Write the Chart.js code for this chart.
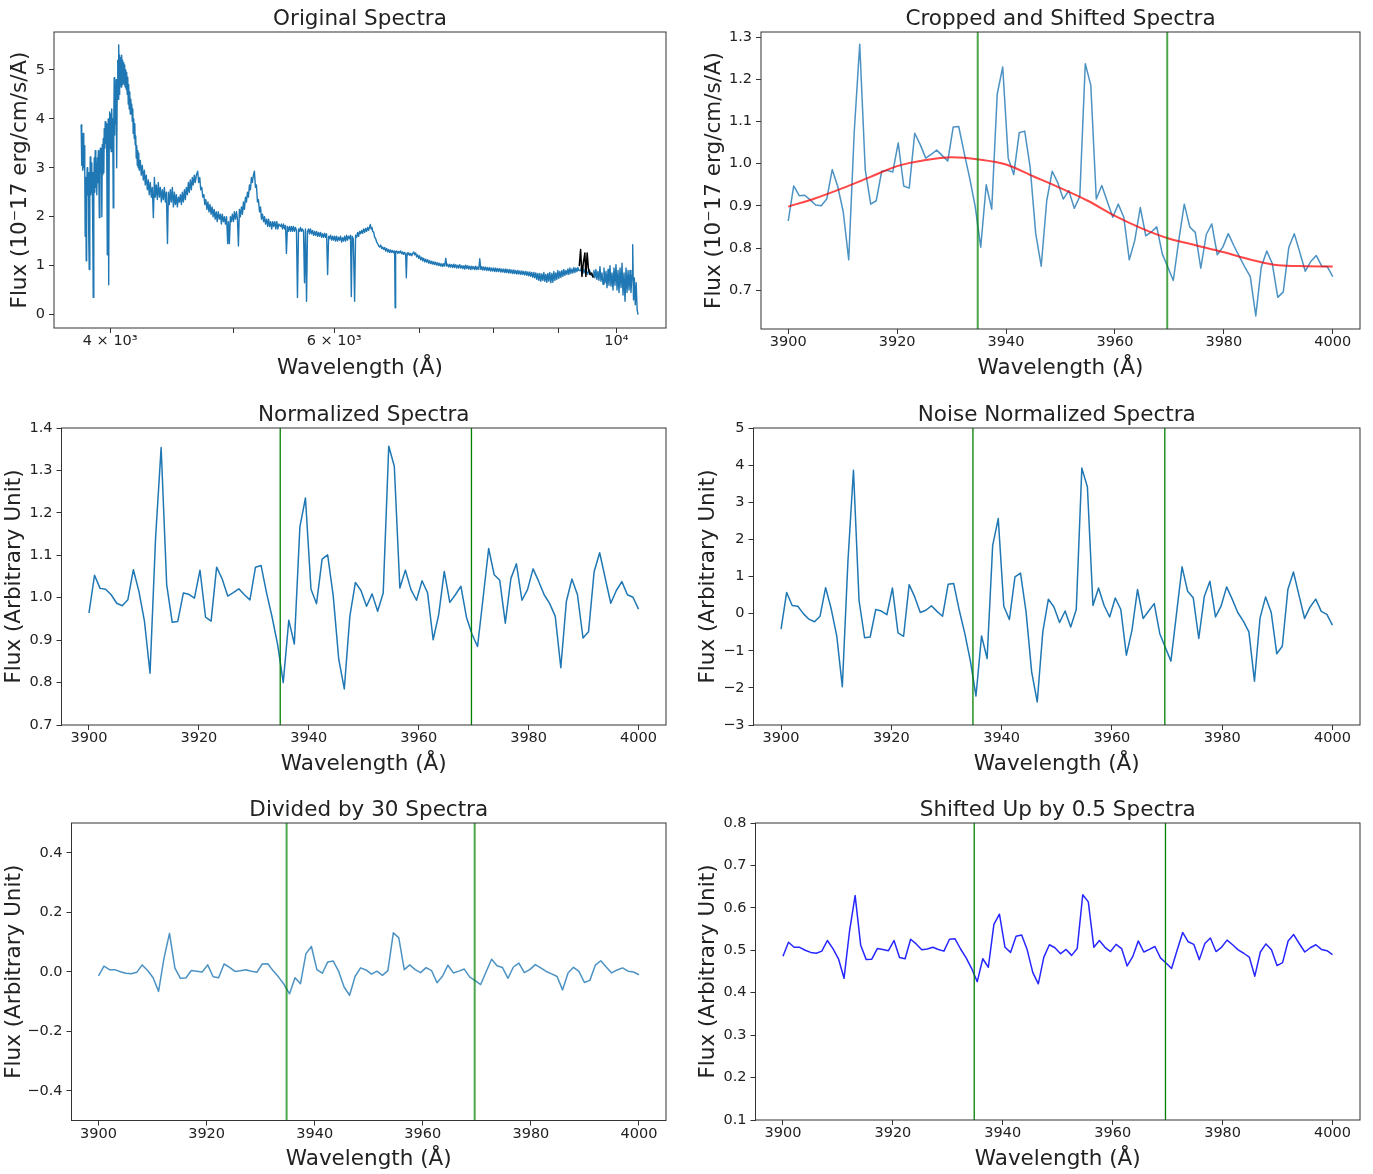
<!DOCTYPE html>
<html><head><meta charset="utf-8">
<script src="https://cdn.jsdelivr.net/npm/chart.js@4.4.0/dist/chart.umd.min.js"></script>
<style>
html,body{margin:0;padding:0;background:#fff;}
body{width:1373px;height:1174px;position:relative;overflow:hidden;}
canvas{position:absolute;}
</style></head>
<body>
<canvas id="p1"></canvas><canvas id="p2"></canvas>
<canvas id="p3"></canvas><canvas id="p4"></canvas>
<canvas id="p5"></canvas><canvas id="p6"></canvas>
<script>
// ---------------- DATA ----------------
// Original (observed-frame) spectrum, wavelength in Å and flux
const origWave = [
3795,3799,3802,3806,3809,3813,3816,3820,3823,3826,
3830,3833,3837,3840,3844,3848,3851,3855,3858,3862,
3865,3869,3872,3876,3879,3883,3886,3890,3893,3897,
3901,3904,3908,3911,3915,3918,3922,3926,3929,3933,
3936,3940,3943,3947,3950,3954,3957,3961,3964,3968,
3971,3975,3979,3982,3986,3989,3993,3996,4000,4004,
4007,4011,4015,4018,4022,4026,4029,4033,4036,4040,
4044,4047,4051,4055,4058,4062,4066,4069,4073,4077,
4080,4084,4088,4091,4095,4099,4103,4106,4110,4114,
4118,4121,4125,4129,4133,4136,4140,4144,4148,4152,
4155,4159,4163,4167,4170,4174,4178,4182,4185,4189,
4193,4197,4201,4205,4208,4212,4216,
4224,4231,4239,4247,4255,4262,4270,4278,4286,4293,
4301,4309,4317,4325,4333,4340,4348,4356,4364,4372,
4380,4388,4396,4404,4412,4420,4428,4437,4444,4452,
4460,4468,4476,4485,4493,4501,4509,4517,4526,4534,
4542,4550,4558,4566,4575,4583,4591,4600,4608,4616,
4624,4633,4641,4649,4658,4666,4675,4686,4695,4704,
4712,4721,4730,4739,4747,4756,4765,4774,4783,4792,
4801,4810,4819,4828,4837,4846,4855,4864,4874,4883,
4892,4900,4910,4919,4928,4938,4948,4955,4963,4972,
4981,4990,5000,5008,5018,5027,5036,5045,5054,5063,
5073,5082,5091,5100,5110,5119,5128,5137,5147,5156,
5165,5174,5184,5193,5203,5212,5222,5231,5241,5251,
5260,5270,5280,5289,5299,5309,5319,5328,5338,5348,
5358,5368,5378,5388,5398,5408,5418,5428,5444,5454,
5464,5474,5484,5494,5503,5513,5523,5534,5544,5554,
5564,5574,5584,5594,5604,5614,5625,5635,5645,5655,
5665,5676,5686,5696,5707,5717,5728,5738,5748,5759,
5770,5780,5791,5801,5812,5822,5833,5843,5854,5865,
5875,5886,5897,5907,5918,5929,5940,5950,5961,5972,
5983,5993,6004,6015,6026,6037,6048,6059,6070,6081,
6092,6103,6114,6125,6136,6147,6158,6170,6180,6189,
6198,6211,6226,6237,6249,6260,6271,6283,6294,6306,
6317,6329,6340,6352,6363,6375,6386,6398,6406,6415,
6425,6433,6445,6456,6468,6480,6491,6503,6515,6527,
6539,6551,6563,6574,6586,6598,6610,6622,6634,6646,
6658,6670,6682,6694,6700,6706,6718,6731,6743,6755,
6767,6780,6792,6804,6817,6829,6837,6846,6854,6866,
6879,6891,6904,6916,6929,6941,6954,6966,6979,6992,
7004,7017,7030,7043,7055,7068,7081,7094,7107,7120,
7133,7146,7159,7172,7185,7197,7210,7224,7237,7250,
7263,7276,7290,7303,7316,7329,7343,7356,7369,7383,
7396,7409,7423,7436,7450,7463,7477,7491,7505,7518,
7532,7546,7560,7573,7587,7600,7614,7628,7642,7656,
7670,7684,7698,7712,7725,7739,7753,7767,7781,7795,
7809,7824,7838,7852,7866,7880,7895,7909,7923,7938,
7952,7966,7981,7995,8010,8024,8039,8053,8068,8082,
8097,8112,8127,8141,8156,8171,8186,8200,8215,8230,
8245,8260,8275,8290,8305,8320,8335,8350,8366,8381,
8396,8411,8427,8442,8457,8472,8488,8503,8518,8534,
8549,8565,8580,8596,8612,8627,8643,8659,8675,8690,
8706,8722,8738,8754,8770,8785,8801,8817,8833,8849,
8865,8882,8898,8914,8930,8946,8962,8978,8995,9011,
9027,9044,9060,9077,9093,9110,9126,9143,9160,9176,
9193,9210,9227,9243,9260,9276,9293,9310,9327,9344,
9373,9400,9430,9460,9490,9520,9560,9590,9601,9619,
9636,9654,9672,9690,9707,9725,9743,9761,9778,9796,
9814,9832,9850,9867,9885,9903,9921,9939,9957,9975,
9993,10012,10030,10048,10066,10085,10103,10121,10140,10158,
10176,10195,10213,10232,10250,10268,10287,10300,10315,10330,
10348,10365,10383,10400
];
const origFlux = [
3.88,3.05,3.55,2.95,3.70,3.00,3.45,2.90,1.60,2.80,
1.10,2.60,3.00,2.45,2.90,1.50,0.92,2.50,3.22,2.45,
3.10,2.50,2.90,1.60,0.35,2.50,3.20,2.50,3.35,2.60,
3.10,2.45,3.20,2.70,3.35,2.90,1.98,3.00,3.40,2.90,
3.10,2.00,3.47,2.86,3.60,2.90,3.80,3.40,3.94,3.50,
3.90,3.30,1.22,3.50,4.00,0.61,3.60,4.14,3.40,4.10,
3.33,4.20,3.60,4.00,2.18,3.90,4.84,3.67,4.70,3.90,
4.80,3.00,4.60,5.20,4.40,5.51,4.50,5.30,4.70,5.25,
4.65,5.30,4.70,5.20,4.75,5.15,4.70,5.10,4.65,5.00,
4.60,4.95,4.50,4.85,4.30,4.70,4.20,4.55,4.10,4.40,
4.14,4.30,3.95,4.20,3.70,4.00,3.60,3.90,3.47,3.65,
3.20,3.45,3.05,3.35,3.00,3.30,2.95,
3.15,2.85,3.05,2.75,2.95,2.65,2.85,2.55,2.75,2.45,
2.70,2.40,2.60,1.98,2.80,2.40,2.65,2.35,2.70,2.40,
2.60,2.30,2.55,2.35,2.60,2.30,2.50,1.45,2.50,2.25,
2.55,2.30,2.60,2.20,2.50,2.25,2.45,2.20,2.40,2.30,
2.45,2.25,2.50,2.30,2.55,2.35,2.60,2.45,2.70,2.50,
2.75,2.55,2.80,2.65,2.85,2.70,2.85,2.93,2.70,2.80,
2.55,2.60,2.40,2.45,2.25,2.35,2.15,2.30,2.10,2.25,
2.05,2.20,2.00,2.15,1.95,2.10,1.90,2.10,1.95,2.05,
1.85,2.05,1.90,2.00,1.85,2.00,1.45,1.90,1.45,2.00,
1.90,2.05,1.90,2.10,1.95,2.10,1.95,1.40,2.15,2.00,
2.20,2.05,2.30,2.15,2.40,2.30,2.50,2.40,2.65,2.55,
2.80,2.70,2.85,2.93,2.60,2.65,2.30,2.35,2.10,2.20,
1.95,2.05,1.90,2.00,1.85,1.95,1.80,1.95,1.80,1.90,
1.75,1.90,1.80,1.90,1.75,1.90,1.75,1.85,1.80,1.85,
1.75,1.85,1.75,1.82,1.25,1.80,1.70,1.80,1.70,1.80,
1.70,1.80,1.70,1.78,1.72,0.35,1.75,1.70,1.78,1.70,
1.75,1.70,0.65,1.75,0.27,1.70,1.75,1.65,1.75,1.65,
1.72,1.62,1.70,1.62,1.70,1.60,1.68,1.60,1.68,1.58,
1.65,1.58,1.66,1.58,1.65,0.82,1.60,1.55,1.62,1.52,
1.60,1.52,1.60,1.50,1.60,1.50,1.58,1.52,1.60,1.48,
1.57,1.50,1.60,1.50,1.62,1.52,1.60,1.55,1.62,0.37,
1.60,1.55,0.27,1.62,1.58,1.68,1.60,1.70,1.65,1.72,
1.66,1.75,1.68,1.76,1.70,1.78,1.72,1.80,1.84,1.75,
1.78,1.70,1.68,1.58,1.55,1.48,1.45,1.40,1.38,1.42,
1.35,1.38,1.33,1.37,1.30,1.35,1.28,1.33,1.27,1.32,
1.27,1.31,1.26,1.30,0.14,1.28,1.30,1.25,1.29,1.26,
1.30,1.24,1.28,1.23,1.27,1.22,0.75,1.26,1.22,1.26,
1.21,1.25,1.20,1.25,1.28,1.22,1.26,1.18,1.22,1.15,
1.20,1.12,1.17,1.10,1.15,1.08,1.13,1.07,1.12,1.05,
1.10,1.04,1.09,1.03,1.08,1.02,1.07,1.01,1.06,1.00,
1.05,0.99,1.04,0.98,1.04,0.99,1.15,0.99,1.03,0.97,
1.03,0.97,1.02,0.96,1.03,0.96,1.02,0.95,1.01,0.95,
1.02,0.95,1.00,0.94,1.00,0.93,1.01,0.94,1.00,0.93,
0.99,0.92,0.99,0.93,0.98,0.92,0.99,0.92,0.97,0.92,
1.14,0.92,0.98,0.91,0.97,0.91,0.97,0.90,0.96,0.90,
0.96,0.89,0.95,0.89,0.95,0.88,0.95,0.88,0.94,0.88,
0.94,0.87,0.93,0.87,0.93,0.86,0.93,0.86,0.92,0.85,
0.92,0.85,0.91,0.84,0.91,0.84,0.90,0.83,0.90,0.83,
0.89,0.82,0.89,0.82,0.88,0.81,0.88,0.80,0.87,0.79,
0.87,0.78,0.86,0.76,0.86,0.75,0.85,0.72,0.84,0.70,
0.84,0.68,0.83,0.70,0.86,0.68,0.82,0.66,0.84,0.68,
0.86,0.65,0.84,0.66,0.88,0.70,0.85,0.72,0.90,0.74,
0.88,0.76,0.90,0.78,0.92,0.80,0.90,0.82,0.93,0.82,
0.95,0.84,0.93,0.85,0.96,0.86,0.95,0.88,0.96,0.90,
0.90,1.00,0.85,0.95,0.82,0.92,0.80,0.78,0.90,0.75,
0.92,0.72,0.88,0.70,0.98,0.68,0.85,0.62,0.95,0.65,
0.88,0.55,0.92,0.60,1.00,0.58,0.85,0.50,0.95,0.60,
1.02,0.50,0.90,0.45,0.95,0.55,1.05,0.40,0.85,0.27,
0.95,0.45,0.90,0.50,0.90,0.45,0.80,1.43,0.30,0.75,
0.20,0.65,0.10,0.00
];
// highlighted (cropped) region of the original spectrum, drawn in black
const markWave = [9350,9373,9396,9419,9446,9463,9485,9508,9534,9563,9590];
const markFlux = [0.99,1.33,0.78,1.05,1.26,0.78,1.26,0.92,0.82,0.85,0.75];

// Rest-frame wavelength grid of the cropped region (Å)
const wave = [
3900.00,3901.01,3902.02,3903.03,3904.04,3905.05,3906.06,3907.07,3908.08,3909.09,
3910.10,3911.11,3912.12,3913.13,3914.14,3915.15,3916.16,3917.17,3918.18,3919.19,
3920.20,3921.21,3922.22,3923.23,3924.24,3925.25,3926.26,3927.27,3928.28,3929.29,
3930.30,3931.31,3932.32,3933.33,3934.34,3935.35,3936.36,3937.37,3938.38,3939.39,
3940.40,3941.41,3942.42,3943.43,3944.44,3945.45,3946.46,3947.47,3948.48,3949.49,
3950.51,3951.52,3952.53,3953.54,3954.55,3955.56,3956.57,3957.58,3958.59,3959.60,
3960.61,3961.62,3962.63,3963.64,3964.65,3965.66,3966.67,3967.68,3968.69,3969.70,
3970.71,3971.72,3972.73,3973.74,3974.75,3975.76,3976.77,3977.78,3978.79,3979.80,
3980.81,3981.82,3982.83,3983.84,3984.85,3985.86,3986.87,3987.88,3988.89,3989.90,
3990.91,3991.92,3992.93,3993.94,3994.95,3995.96,3996.97,3997.98,3998.99,4000.00
];
const croppedFlux = [
0.864,0.947,0.924,0.925,0.914,0.902,0.900,0.916,0.986,0.946,
0.886,0.772,1.075,1.283,0.986,0.904,0.912,0.982,0.984,0.980,
1.049,0.947,0.942,1.072,1.045,1.013,1.022,1.032,1.019,1.006,
1.087,1.088,1.025,0.965,0.898,0.802,0.950,0.892,1.165,1.229,
1.013,0.974,1.073,1.077,0.990,0.834,0.757,0.912,0.982,0.955,
0.916,0.936,0.894,0.922,1.237,1.186,0.916,0.948,0.910,0.873,
0.904,0.873,0.772,0.818,0.896,0.829,0.838,0.850,0.786,0.755,
0.723,0.818,0.904,0.850,0.837,0.752,0.832,0.857,0.784,0.802,
0.834,0.806,0.780,0.755,0.732,0.639,0.755,0.793,0.763,0.683,
0.696,0.801,0.834,0.790,0.745,0.768,0.782,0.757,0.756,0.732
];
// smooth continuum fit (red curve)
const contWave = [3900,3905,3910,3915,3920,3925,3930,3935,3940,3945,3950,3955,3960,3965,3970,3975,3980,3985,3990,3995,4000];
const contFlux = [0.898,0.918,0.942,0.968,0.994,1.008,1.015,1.010,0.998,0.970,0.942,0.912,0.876,0.846,0.822,0.806,0.790,0.772,0.759,0.757,0.756];
const normFlux = [
0.964,1.053,1.022,1.020,1.007,0.987,0.981,0.995,1.066,1.015,
0.944,0.822,1.141,1.354,1.031,0.942,0.944,1.011,1.008,0.999,
1.065,0.954,0.945,1.072,1.044,1.004,1.012,1.021,1.007,0.995,
1.072,1.076,1.011,0.954,0.889,0.800,0.947,0.891,1.167,1.235,
1.020,0.986,1.091,1.101,1.005,0.855,0.785,0.956,1.036,1.017,
0.980,1.009,0.968,1.011,1.357,1.310,1.023,1.065,1.019,0.994,
1.040,1.011,0.901,0.960,1.062,0.989,1.007,1.027,0.954,0.914,
0.885,1.000,1.116,1.054,1.041,0.940,1.045,1.080,0.994,1.019,
1.068,1.039,1.007,0.986,0.956,0.835,0.991,1.044,1.007,0.905,
0.920,1.061,1.106,1.046,0.987,1.017,1.038,1.007,1.001,0.973
];
const noiseFlux = [
-0.42,0.57,0.22,0.20,0.00,-0.15,-0.22,-0.07,0.70,0.13,
-0.60,-1.97,1.39,3.86,0.36,-0.65,-0.63,0.11,0.07,-0.03,
0.69,-0.52,-0.61,0.78,0.45,0.03,0.09,0.21,0.06,-0.07,
0.79,0.81,0.09,-0.54,-1.28,-2.22,-0.60,-1.21,1.84,2.56,
0.20,-0.16,0.99,1.09,0.04,-1.57,-2.38,-0.49,0.39,0.18,
-0.24,0.07,-0.36,0.11,3.92,3.41,0.22,0.69,0.22,-0.09,
0.42,0.11,-1.12,-0.45,0.65,-0.13,0.07,0.27,-0.54,-0.91,
-1.28,0.00,1.26,0.60,0.43,-0.67,0.47,0.87,-0.09,0.20,
0.72,0.39,0.03,-0.20,-0.49,-1.82,-0.12,0.45,0.04,-1.08,
-0.88,0.65,1.12,0.49,-0.13,0.18,0.39,0.06,-0.02,-0.31
];
const dividedFlux = [
-0.014,0.019,0.007,0.007,0.000,-0.005,-0.007,-0.002,0.023,0.004,
-0.020,-0.066,0.046,0.129,0.012,-0.022,-0.021,0.004,0.002,-0.001,
0.023,-0.017,-0.020,0.026,0.015,0.001,0.003,0.007,0.002,-0.002,
0.026,0.027,0.003,-0.018,-0.043,-0.074,-0.020,-0.040,0.061,0.085,
0.007,-0.005,0.033,0.036,0.001,-0.052,-0.079,-0.016,0.013,0.006,
-0.008,0.002,-0.012,0.004,0.131,0.114,0.007,0.023,0.007,-0.003,
0.014,0.004,-0.037,-0.015,0.022,-0.004,0.002,0.009,-0.018,-0.030,
-0.043,0.000,0.042,0.020,0.014,-0.022,0.016,0.029,-0.003,0.007,
0.024,0.013,0.001,-0.007,-0.016,-0.061,-0.004,0.015,0.001,-0.036,
-0.029,0.022,0.037,0.016,-0.004,0.006,0.013,0.002,-0.001,-0.010
];
const shiftedFlux = [
0.486,0.519,0.507,0.507,0.500,0.495,0.493,0.498,0.523,0.504,
0.480,0.434,0.546,0.629,0.512,0.478,0.479,0.504,0.502,0.499,
0.523,0.483,0.480,0.526,0.515,0.501,0.503,0.507,0.502,0.498,
0.526,0.527,0.503,0.482,0.457,0.426,0.480,0.460,0.561,0.585,
0.507,0.495,0.533,0.536,0.501,0.448,0.421,0.484,0.513,0.506,
0.492,0.502,0.488,0.504,0.631,0.614,0.507,0.523,0.507,0.497,
0.514,0.504,0.463,0.485,0.522,0.496,0.502,0.509,0.482,0.470,
0.457,0.500,0.542,0.520,0.514,0.478,0.516,0.529,0.497,0.507,
0.524,0.513,0.501,0.493,0.484,0.439,0.496,0.515,0.501,0.464,
0.471,0.522,0.537,0.516,0.496,0.506,0.513,0.502,0.499,0.490
];
// Ca II K and H line positions (green vertical lines)
const caLines = [3934.8, 3969.6];

// tick values / labels
const origXTicks = [4000,5000,6000,7000,8000,9000,10000];
const origXTickLabels = ['4 × 10³','','6 × 10³','','','','10⁴'];
const restXTicks = [3900,3920,3940,3960,3980,4000];
const origYTicks = [0,1,2,3,4,5];
const croppedYTicks = [0.7,0.8,0.9,1.0,1.1,1.2,1.3];
const normYTicks = [0.7,0.8,0.9,1.0,1.1,1.2,1.3,1.4];
const noiseYTicks = [-3,-2,-1,0,1,2,3,4,5];
const dividedYTicks = [-0.4,-0.2,0.0,0.2,0.4];
const shiftedYTicks = [0.1,0.2,0.3,0.4,0.5,0.6,0.7,0.8];

// ---------------- RENDERING ----------------
const FONT = "'DejaVu Sans', 'Liberation Sans', sans-serif";
const TEXT = '#222222';
const AXIS = '#333333';
const TS = 21.5;   // title / axis label font size
const BLUE = '#1f77b4';

function pts(xs, ys) { return xs.map((x, i) => ({ x: x, y: ys[i] })); }
const minus = s => s.replace('-', '\u2212');
const fmt0 = v => minus(String(v));
const fmt1 = v => minus(Number(v).toFixed(1));

const framePlugin = {
  id: 'frame',
  afterDatasetsDraw(chart) {
    const { ctx, chartArea: a } = chart;
    ctx.save();
    ctx.strokeStyle = AXIS;
    ctx.lineWidth = 1;
    ctx.strokeRect(a.left, a.top, a.right - a.left, a.bottom - a.top);
    ctx.restore();
  }
};

function lineDs(data, color, width, order) {
  return { data: data, borderColor: color, borderWidth: width, pointRadius: 0,
           fill: false, tension: 0, order: order, borderJoinStyle: 'round' };
}
function vlines(yMin, yMax, color, width) {
  return caLines.map(w => lineDs([{ x: w, y: yMin }, { x: w, y: yMax }], color, width, 0));
}

function buildPanel(id, box, spec) {
  const cv = document.getElementById(id);
  const cl = Math.round(box.yTitleX - TS / 2);
  const ct = Math.round(box.T - TS - 1.5);
  const cr = Math.round(box.R + 2);
  const cb = Math.round(box.xTitleY + TS / 2);
  const w = cr - cl, h = cb - ct;
  cv.style.left = cl + 'px'; cv.style.top = ct + 'px';
  cv.style.width = w + 'px'; cv.style.height = h + 'px';
  cv.width = w; cv.height = h;
  const yW = box.L - cl, xH = cb - box.B;
  const tickFont = { family: FONT, size: 14.5, lineHeight: 1.2, weight: 'normal' };
  const labFont = { family: FONT, size: TS, lineHeight: 1, weight: 'normal' };
  const gridOpt = { display: true, drawOnChartArea: false, drawTicks: true, tickLength: 5, color: AXIS, lineWidth: 1 };
  return new Chart(cv, {
    type: 'line',
    data: { datasets: spec.datasets },
    options: {
      responsive: false, animation: false, devicePixelRatio: 1,
      events: [],
      layout: { padding: { left: 0, right: 2, top: 0, bottom: 0 } },
      plugins: {
        legend: { display: false }, tooltip: { enabled: false },
        title: { display: true, text: spec.title, fullSize: false, color: TEXT,
                 font: labFont, padding: { top: 0, bottom: (box.T - ct) - TS } }
      },
      scales: {
        x: {
          type: spec.xType || 'linear', min: spec.xMin, max: spec.xMax,
          afterFit: s => { s.height = xH; },
          afterBuildTicks: s => { s.ticks = spec.xTicks.map(v => ({ value: v })); },
          ticks: { autoSkip: false, maxRotation: 0, minRotation: 0, padding: 0, color: TEXT,
                   font: tickFont, callback: spec.xLabel },
          grid: gridOpt, border: { display: false },
          title: { display: true, text: 'Wavelength (Å)', color: TEXT, font: labFont, padding: 0 }
        },
        y: {
          type: 'linear', min: spec.yMin, max: spec.yMax,
          afterFit: s => { s.width = yW; },
          afterBuildTicks: s => { s.ticks = spec.yTicks.map(v => ({ value: v })); },
          ticks: { autoSkip: false, padding: 4, color: TEXT, font: tickFont, callback: spec.yLabel },
          grid: gridOpt, border: { display: false },
          title: { display: true, text: spec.yTitle, color: TEXT, font: labFont, padding: 0 }
        }
      }
    },
    plugins: [framePlugin]
  });
}

const FLUX_TITLE = 'Flux (10⁻17 erg/cm/s/Å)';
const ARB_TITLE = 'Flux (Arbitrary Unit)';
const restX = { xMin: 3895, xMax: 4005, xTicks: restXTicks, xLabel: v => String(v) };

// 1. Original Spectra
buildPanel('p1', { L: 54, T: 32, R: 666, B: 328, yTitleX: 21, xTitleY: 368 }, {
  title: 'Original Spectra', yTitle: FLUX_TITLE,
  xType: 'logarithmic', xMin: 3613, xMax: 10940, xTicks: origXTicks,
  xLabel: (v, i) => origXTickLabels[origXTicks.indexOf(v)] || '',
  yMin: -0.275, yMax: 5.775, yTicks: origYTicks, yLabel: fmt0,
  datasets: [
    lineDs(pts(markWave, markFlux), '#000000', 1.5, 0),
    lineDs(pts(origWave, origFlux), BLUE, 1.4, 1)
  ]
});

// 2. Cropped and Shifted Spectra
buildPanel('p2', { L: 761, T: 32, R: 1360, B: 329, yTitleX: 715, xTitleY: 368 }, Object.assign({
  title: 'Cropped and Shifted Spectra', yTitle: FLUX_TITLE,
  yMin: 0.608, yMax: 1.312, yTicks: croppedYTicks, yLabel: fmt1,
  datasets: [
    ...vlines(0.608, 1.312, 'rgba(0,128,0,0.7)', 2),
    Object.assign(lineDs(pts(contWave, contFlux), 'rgba(255,0,0,0.72)', 2, 1), { cubicInterpolationMode: 'monotone' }),
    lineDs(pts(wave, croppedFlux), 'rgba(31,119,180,0.8)', 1.5, 2)
  ]
}, restX));

// 3. Normalized Spectra
buildPanel('p3', { L: 61.5, T: 428, R: 666, B: 725, yTitleX: 15, xTitleY: 764 }, Object.assign({
  title: 'Normalized Spectra', yTitle: ARB_TITLE,
  yMin: 0.7, yMax: 1.4, yTicks: normYTicks, yLabel: fmt1,
  datasets: [
    ...vlines(0.7, 1.4, '#008000', 1.3),
    lineDs(pts(wave, normFlux), BLUE, 1.5, 2)
  ]
}, restX));

// 4. Noise Normalized Spectra
buildPanel('p4', { L: 753.5, T: 428, R: 1359.5, B: 725, yTitleX: 709, xTitleY: 764 }, Object.assign({
  title: 'Noise Normalized Spectra', yTitle: ARB_TITLE,
  yMin: -3, yMax: 5, yTicks: noiseYTicks, yLabel: fmt0,
  datasets: [
    ...vlines(-3, 5, '#008000', 1.3),
    lineDs(pts(wave, noiseFlux), BLUE, 1.5, 2)
  ]
}, restX));

// 5. Divided by 30 Spectra
buildPanel('p5', { L: 71.5, T: 823, R: 666, B: 1120.5, yTitleX: 15, xTitleY: 1159 }, Object.assign({
  title: 'Divided by 30 Spectra', yTitle: ARB_TITLE,
  yMin: -0.5, yMax: 0.5, yTicks: dividedYTicks, yLabel: fmt1,
  datasets: [
    ...vlines(-0.5, 0.5, 'rgba(0,128,0,0.7)', 2),
    lineDs(pts(wave, dividedFlux), 'rgba(31,119,180,0.8)', 1.5, 2)
  ]
}, restX));

// 6. Shifted Up by 0.5 Spectra
buildPanel('p6', { L: 755.5, T: 823, R: 1360, B: 1120, yTitleX: 709, xTitleY: 1159 }, Object.assign({
  title: 'Shifted Up by 0.5 Spectra', yTitle: ARB_TITLE,
  yMin: 0.1, yMax: 0.8, yTicks: shiftedYTicks, yLabel: fmt1,
  datasets: [
    ...vlines(0.1, 0.8, '#008000', 1.3),
    lineDs(pts(wave, shiftedFlux), 'rgba(0,0,255,0.85)', 1.5, 2)
  ]
}, restX));
</script>
</body></html>
